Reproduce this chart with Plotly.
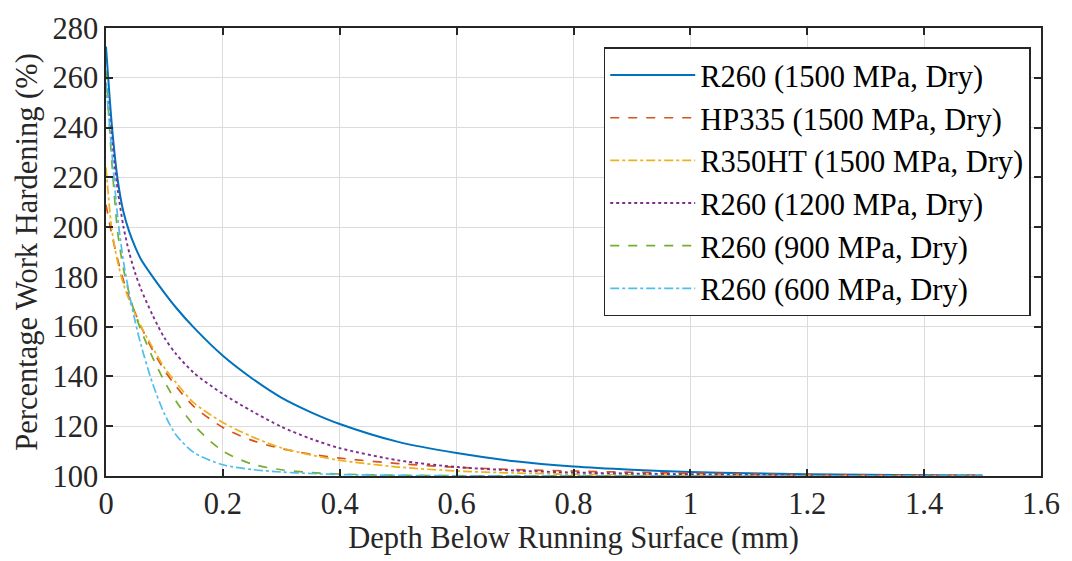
import plotly.graph_objects as go

depth = [0.00, 0.01, 0.02, 0.03, 0.04, 0.05, 0.06, 0.08, 0.10, 0.12, 0.15,
         0.20, 0.25, 0.30, 0.35, 0.40, 0.50, 0.60, 0.70, 0.80, 0.90, 1.00,
         1.10, 1.20, 1.30, 1.40, 1.50]

r260_1500 = [272.5, 241, 219, 206, 198, 192, 187, 180, 173.6, 167.6, 159.7,
             148.3, 139.2, 131.5, 125.7, 120.9, 113.7, 109.2, 105.9, 103.8, 102.5, 101.6,
             101.1, 100.72, 100.48, 100.31, 100.2]
hp335_1500 = [209, 197, 187, 178.5, 171.5, 165.5, 160, 150.5, 142.5, 136, 128,
              119.5, 114.3, 111, 108.8, 107.2, 105, 103.5, 102.6, 102, 101.5, 101.1,
              100.8, 100.55, 100.4, 100.3, 100.2]
r350ht_1500 = [224, 199, 186, 177, 170.5, 165, 160, 151.5, 143.5, 137.5, 129.5,
               121.5, 115.8, 111.3, 108.5, 106.3, 103.6, 102, 101.2, 100.7, 100.45, 100.3,
               100.2, 100.12, 100.08, 100.05, 100.03]
r260_1200 = [258, 235, 215, 200, 189.5, 181.5, 175, 164.5, 155.5, 149, 141.5,
             133, 126, 119.8, 115, 111.2, 106.3, 103.6, 102.2, 101.4, 101, 100.7,
             100.5, 100.35, 100.25, 100.18, 100.13]
r260_900 = [263, 226, 198, 183, 173, 165, 158.5, 147.5, 138, 130, 120.5,
            110, 104.8, 102.5, 101.4, 100.8, 100.3, 100.12, 100.05, 100.03, 100.02, 100.01,
            100, 100, 100, 100, 100]
r260_600 = [258, 230, 204, 186, 173, 162, 152.5, 137, 125, 116.5, 109.5,
            104.5, 102.6, 101.6, 101, 100.6, 100.25, 100.1, 100.05, 100.03, 100.02, 100.01,
            100, 100, 100, 100, 100]

names = ["R260 (1500 MPa, Dry)", "HP335 (1500 MPa, Dry)", "R350HT (1500 MPa, Dry)",
         "R260 (1200 MPa, Dry)", "R260 (900 MPa, Dry)", "R260 (600 MPa, Dry)"]
series = [r260_1500, hp335_1500, r350ht_1500, r260_1200, r260_900, r260_600]
colors = ["#0072BD", "#D95319", "#EDB120", "#7E2F8E", "#77AC30", "#4DBEEE"]
dashes = ["solid", "dash", "dashdot", "dot", "dash", "dashdot"]
widths = [2, 1.7, 1.7, 1.9, 1.7, 1.7]

FONT = "Liberation Serif"

fig = go.Figure()
for n, s, c, d, w in zip(names, series, colors, dashes, widths):
    fig.add_trace(go.Scatter(x=depth, y=s, mode="lines", name=n,
                             line=dict(color=c, dash=d, width=w, shape="spline", smoothing=0.8)))

axis_common = dict(
    showline=True, linecolor="#262626", linewidth=1.5, mirror="ticks",
    ticks="inside", ticklen=7, tickcolor="#262626", tickwidth=1.5,
    showgrid=True, gridcolor="#dcdcdc", gridwidth=1, zeroline=False,
    tickfont=dict(family=FONT, size=30.5, color="#262626"),
)

fig.update_xaxes(range=[0, 1.6], dtick=0.2, tick0=0,
                 title=dict(text="Depth Below Running Surface (mm)", standoff=6,
                            font=dict(family=FONT, size=30.5, color="#262626")),
                 **axis_common)
fig.update_yaxes(range=[100, 280], dtick=20, tick0=100,
                 title=dict(text="Percentage Work Hardening (%)", standoff=6,
                            font=dict(family=FONT, size=30.5, color="#262626")),
                 **axis_common)

fig.update_layout(
    width=1072, height=561,
    margin=dict(l=106, r=21, t=23, b=84),
    plot_bgcolor="white", paper_bgcolor="white",
    font=dict(family=FONT, size=30, color="#262626"),
    legend=dict(x=0.989, y=0.957, xanchor="right", yanchor="top",
                bgcolor="white", bordercolor="#262626", borderwidth=1.5,
                font=dict(family=FONT, size=30.5, color="black"),
                itemwidth=85, tracegroupgap=0),
    showlegend=True,
)

fig.write_html("out.html")
